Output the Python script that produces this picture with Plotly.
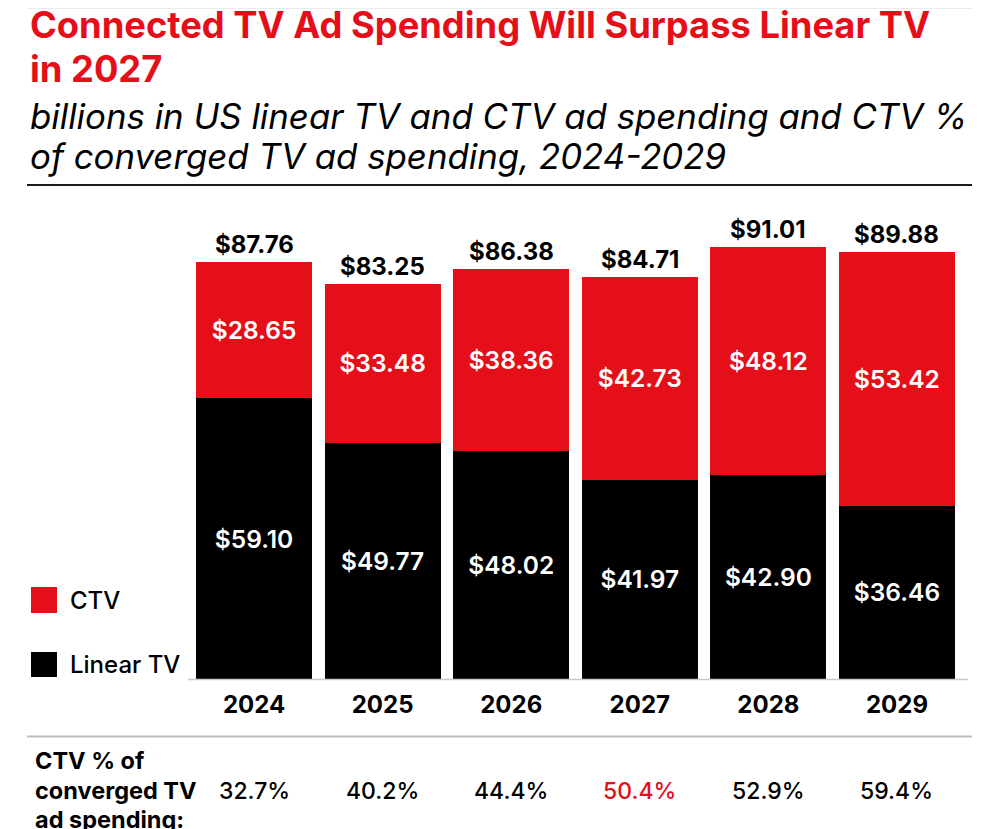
import plotly.graph_objects as go

# data (billions USD)
years = ["2024", "2025", "2026", "2027", "2028", "2029"]
linear_tv = [59.10, 49.77, 48.02, 41.97, 42.90, 36.46]
ctv = [28.65, 33.48, 38.36, 42.73, 48.12, 53.42]
totals = [87.76, 83.25, 86.38, 84.71, 91.01, 89.88]
ctv_share = [32.7, 40.2, 44.4, 50.4, 52.9, 59.4]
highlight_year = "2027"

# page body has an 8px margin, so the figure is drawn 8px in from the window corner
OFF = 8
W, H = 990 - OFF, 829 - OFF
RED = "#E50F1A"
FONT = "Inter"


def px(x):
    # window pixel -> paper fraction
    return (x - OFF) / W


def py(y):
    return 1 - (y - OFF) / H


fig = go.Figure()

fig.add_trace(go.Bar(
    x=years, y=linear_tv, name="Linear TV",
    marker=dict(color="black", line_width=0),
    texttemplate="$%{y:.2f}", textposition="inside", insidetextanchor="middle",
    textangle=0, textfont=dict(color="white", size=24.5, family=FONT, weight=600),
    hoverinfo="skip",
))
fig.add_trace(go.Bar(
    x=years, y=ctv, name="CTV",
    marker=dict(color=RED, line_width=0),
    texttemplate="$%{y:.2f}", textposition="inside", insidetextanchor="middle",
    textangle=0, textfont=dict(color="white", size=24.5, family=FONT, weight=600),
    hoverinfo="skip",
))

annotations = []

# totals on top of the bars (category index as x)
for i, t in enumerate(totals):
    annotations.append(dict(
        x=i, y=t, xref="x", yref="y", text=f"${t:.2f}", showarrow=False,
        yanchor="bottom", yshift=1,
        font=dict(size=24, color="black", family=FONT, weight=700),
    ))

# CTV share row
for i, (yr, s) in enumerate(zip(years, ctv_share)):
    annotations.append(dict(
        x=i, y=py(790.5), xref="x", yref="paper", text=f"{s:.1f}%", showarrow=False,
        yanchor="middle",
        font=dict(size=23, color=RED if yr == highlight_year else "black", family=FONT, weight=500),
    ))

row_label = ["CTV % of", "converged TV", "ad spending:"]
for line, yc in zip(row_label, [760, 790.5, 819]):
    annotations.append(dict(
        x=px(33), y=py(yc), xref="paper", yref="paper", text=line, showarrow=False,
        xanchor="left", yanchor="middle",
        font=dict(size=23.5, color="black", family=FONT, weight=700),
    ))

# title and subtitle
for line, yc in zip(["Connected TV Ad Spending Will Surpass Linear TV", "in 2027"], [25.5, 69.5]):
    annotations.append(dict(
        x=px(28), y=py(yc), xref="paper", yref="paper", text=line, showarrow=False,
        xanchor="left", yanchor="middle",
        font=dict(size=36.3, color=RED, family=FONT, weight=700),
    ))
for line, yc in zip(["billions in US linear TV and CTV ad spending and CTV %",
                     "of converged TV ad spending, 2024-2029"], [116.5, 155.5]):
    annotations.append(dict(
        x=px(28), y=py(yc), xref="paper", yref="paper", text=line, showarrow=False,
        xanchor="left", yanchor="middle",
        font=dict(size=34.8, color="black", family=FONT, style="italic", weight=400),
    ))

# legend
for name, color, yc in [("CTV", RED, 600), ("Linear TV", "black", 664.5)]:
    annotations.append(dict(
        x=px(68), y=py(yc), xref="paper", yref="paper", text=name, showarrow=False,
        xanchor="left", yanchor="middle",
        font=dict(size=24, color="black", family=FONT, weight=500),
    ))

shapes = [
    dict(type="line", xref="paper", yref="paper", x0=px(27), x1=px(972), y0=py(8.5), y1=py(8.5),
         line=dict(color="#EBEBEB", width=1)),
    dict(type="line", xref="paper", yref="paper", x0=px(27), x1=px(972), y0=py(185), y1=py(185),
         line=dict(color="#1A1A1A", width=2)),
    dict(type="line", xref="paper", yref="paper", x0=px(188), x1=px(968), y0=py(679.5), y1=py(679.5),
         line=dict(color="#C8C8C8", width=1.5)),
    dict(type="line", xref="paper", yref="paper", x0=px(27), x1=px(972), y0=py(736.5), y1=py(736.5),
         line=dict(color="#BDBDBD", width=2)),
    dict(type="rect", xref="paper", yref="paper", x0=px(31), x1=px(57), y0=py(613), y1=py(587),
         fillcolor=RED, line_width=0),
    dict(type="rect", xref="paper", yref="paper", x0=px(31), x1=px(57), y0=py(677), y1=py(652),
         fillcolor="black", line_width=0),
]

fig.update_layout(
    width=W, height=H, autosize=False,
    margin=dict(l=0, r=0, t=0, b=0, autoexpand=False),
    paper_bgcolor="white", plot_bgcolor="white",
    barmode="stack", bargap=0.097,
    showlegend=False,
    font=dict(family=FONT, color="black"),
    xaxis=dict(
        type="category", automargin=False, range=[-0.5, len(years) - 0.5],
        domain=[px(189.75), px(961.25)], showgrid=False, zeroline=False, showline=False,
        ticks="", ticklabelstandoff=9,
        tickfont=dict(size=24, color="black", family=FONT, weight=700),
        fixedrange=True,
    ),
    yaxis=dict(
        automargin=False,
        domain=[py(679), py(200)], range=[0, (679 - 200) / 4.75], visible=False, fixedrange=True,
    ),
    annotations=annotations,
    shapes=shapes,
)

fig.write_html("out.html")
